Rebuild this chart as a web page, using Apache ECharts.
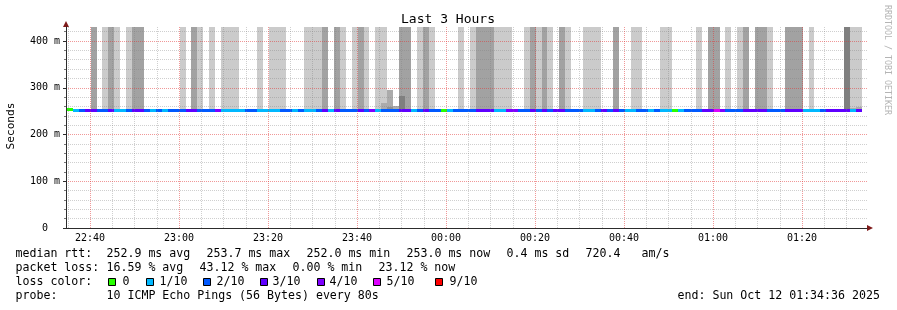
<!DOCTYPE html>
<html><head><meta charset="utf-8">
<script src="https://cdn.jsdelivr.net/npm/echarts@6/dist/echarts.min.js"></script>
<style>html,body{margin:0;padding:0;background:#fff}#c{width:897px;height:310px}</style>
</head><body><div id="c"></div>
<script>
// ---------------- data ----------------
const firstStepMin = 34.8;      // first 80s step starts 22:34:48 (minutes after 22:00)
const stepSeconds = 80;
const axisStartMin = 34.6;      // 22:34:36
const axisEndMin = 214.6;       // 01:34:36
const yMaxMs = 430;
const smokeTopMs = 430;

// lost pings (out of 10) per 80 s step
const lossTenths = [
 0,1,2,3,3,2,2,3,1,1, 2,3,3,2,1,2,1,2,2,2, 3,3,2,2,2,4,1,1,1,1,
 2,2,1,1,1,1,2,2,1,2, 1,1,2,3,1,3,2,2,2,3, 2,4,1,2,2,2,3,3,1,2,
 3,2,2,0,1,2,2,2,2,3, 3,3,1,1,4,4,2,2,3,2, 3,2,3,3,2,2,2,1,1,2,
 3,2,3,2,1,1,2,2,1,2, 1,1,0,1,2,2,2,3,3,5, 4,2,2,2,3,3,3,3,2,2,
 2,3,3,3,1,1,1,2,3,3, 3,3,1,3
];
// median rtt (ms) per step
const medianMs = [
 253.7,253.1,253.0,252.9,253.0,253.1,253.0,252.9,253.0,253.1, 253.0,252.9,253.0,253.0,253.1,253.0,253.0,252.9,253.0,253.1,
 253.0,253.0,252.9,253.0,253.1,253.0,253.0,253.0,252.9,253.0, 253.1,253.0,253.0,252.9,253.0,253.0,253.1,253.0,253.0,252.9,
 253.0,253.1,253.0,252.9,253.0,253.0,253.1,253.0,252.9,253.0, 253.0,253.1,253.0,253.0,252.9,253.0,253.0,253.1,253.0,252.9,
 253.0,253.0,253.1,253.0,253.0,252.9,253.0,252.4,252.4,253.0, 253.1,253.0,252.9,253.0,253.0,253.1,253.0,253.0,252.9,253.0,
 253.1,253.0,253.0,252.9,253.0,253.0,253.1,253.0,253.0,252.9, 253.0,253.1,253.0,253.0,252.9,253.0,253.0,253.1,253.0,253.0,
 252.9,253.0,253.1,253.0,253.0,252.9,253.0,253.0,253.1,253.0, 253.0,252.9,253.0,252.2,252.2,252.3,252.2,252.1,252.2,252.2,
 252.0,252.2,252.3,252.2,252.2,252.1,252.2,252.2,252.3,252.2, 252.2,252.2,252.9,253.0
];
// smoke (ping spread) steps
const lightSmokeSteps = [6,8,10,19,22,24,26,27,28,32,34,35,36,40,41,42,46,48,50,52,53,59,61,66,68,72,73,74,77,79,81,84,87,88,89,95,96,100,101,106,111,113,118,125,132,133];
const darkSmokeSteps = [4,7,11,12,21,43,45,49,56,57,60,69,70,71,78,80,83,92,108,109,114,116,117,121,122,123];
const darkestSmokeSteps = [131];
// partial smoke: [step, top ms, shade]
const partialSmoke = [[53,268,3],[54,295,3],[54,258,4],[55,262,3],[56,282,2],[67,255,0],[132,256,3],[133,258,3]];

const xTickMinutes = [40,60,80,100,120,140,160,180,200];
const xTickLabels = ['22:40','23:00','23:20','23:40','00:00','00:20','00:40','01:00','01:20'];
const xMinorMinutes = [35,45,50,55,65,70,75,85,90,95,105,110,115,125,130,135,145,150,155,165,170,175,185,190,195,205,210];
const yTickValues = [0,100,200,300,400];
const yMinorValues = [20,40,60,80,120,140,160,180,220,240,260,280,320,340,360,380,420];

const lossLevels = [0,1,2,3,4,5,9];
const lossLabels = ['0','1/10','2/10','3/10','4/10','5/10','9/10'];
const lossColors = ['#26ff00','#00b8ff','#0059ff','#5e00ff','#7e00ff','#dd00ff','#ff0000'];
const smokeShades = ['#cbcbcb','#a2a2a2','#7f7f7f','#ababab','#909090'];

const rttStats = ['252.9 ms avg','253.7 ms max','252.0 ms min','253.0 ms now','0.4 ms sd','720.4','am/s'];
const lossStats = ['16.59 % avg','43.12 % max','0.00 % min','23.12 % now'];
const probeText = '10 ICMP Echo Pings (56 Bytes) every 80s';
const endText = 'end: Sun Oct 12 01:34:36 2025';

// ---------------- build ----------------
const stepMin = stepSeconds / 60;
const stepStart = i => firstStepMin + i * stepMin;
const smokeData = [];
const addBand = (i, top, shade) => smokeData.push([stepStart(i), stepStart(i + 1), medianMs[i], top, shade]);
lightSmokeSteps.forEach(i => addBand(i, smokeTopMs, 0));
darkSmokeSteps.forEach(i => addBand(i, smokeTopMs, 1));
darkestSmokeSteps.forEach(i => addBand(i, smokeTopMs, 2));
partialSmoke.forEach(p => addBand(p[0], p[1], p[2]));

const lineData = lossTenths.map((l, i) => [stepStart(i), stepStart(i + 1), medianMs[i], lossLevels.indexOf(l)]);

function smokeItem(params, api) {
  const a = api.coord([api.value(0), api.value(3)]);
  const b = api.coord([api.value(1), api.value(2)]);
  const x0 = Math.round(a[0]), x1 = Math.round(b[0]);
  const y0 = Math.round(a[1]), y1 = Math.round(b[1]);
  return { type: 'rect', shape: { x: x0, y: y0, width: x1 - x0, height: y1 - y0 },
           style: { fill: smokeShades[api.value(4)] } };
}
function lineItem(params, api) {
  const a = api.coord([api.value(0), api.value(2)]);
  const b = api.coord([api.value(1), api.value(2)]);
  const x0 = Math.round(a[0]), x1 = Math.round(b[0]);
  const y = Math.round(a[1] - 1);
  return { type: 'rect', shape: { x: x0, y: y, width: x1 - x0, height: 3 },
           style: { fill: lossColors[api.value(3)] } };
}

const FONT = '"DejaVu Sans Mono", monospace';
const legendFont = '11.6px ' + FONT;
const txt = (text, x, y, extra) => Object.assign({ type: 'text', x: x, y: y,
  style: Object.assign({ text: text, font: legendFont, fill: '#000', textVerticalAlign: 'middle' }, extra || {}) });

const graphics = [];
graphics.push(txt('Last 3 Hours', 448, 20, { font: '13px ' + FONT, textAlign: 'center' }));
graphics.push({ type: 'text', x: 11, y: 126, rotation: Math.PI / 2,
  style: { text: 'Seconds', font: '11.2px ' + FONT, fill: '#000', textAlign: 'center', textVerticalAlign: 'middle' } });
graphics.push({ type: 'text', x: 887, y: 60, rotation: -Math.PI / 2,
  style: { text: 'RRDTOOL / TOBI OETIKER', font: '8.3px ' + FONT, fill: '#b4b4b4', textAlign: 'center', textVerticalAlign: 'middle' } });
// line 1
graphics.push(txt('median rtt:', 15.5, 254));
[107, 207, 307, 407, 507, 586, 642].forEach((x, k) => graphics.push(txt(rttStats[k], x - 0.5, 254)));
// line 2
graphics.push(txt('packet loss:', 15.5, 268));
[107, 200, 293, 379].forEach((x, k) => graphics.push(txt(lossStats[k], x - 0.5, 268)));
// line 3
graphics.push(txt('loss color:', 15.5, 282));
const sqX = [108, 146, 203, 260, 317, 373, 435];
const lbX = [123, 160, 217, 273, 330, 387, 450];
lossLabels.forEach((lab, k) => {
  graphics.push({ type: 'rect', shape: { x: sqX[k] + 0.5, y: 278.5, width: 7, height: 7 },
    style: { fill: lossColors[k], stroke: '#000', lineWidth: 1 } });
  graphics.push(txt(lab, lbX[k] - 0.5, 282));
});
// line 4
graphics.push(txt('probe:', 15.5, 296));
graphics.push(txt(probeText, 106.5, 296));
graphics.push(txt(endText, 677.5, 296));

const gridGray = 'rgba(128,128,128,0.38)';
const gridRed = 'rgba(225,50,50,0.5)';
const axisCol = '#2c2c2c';
const arrowCol = '#7f1a1a';

const option = {
  animation: false,
  backgroundColor: '#fff',
  grid: { left: 66, right: 30, top: 27, bottom: 82, containLabel: false },
  xAxis: [
    { type: 'value', min: axisStartMin, max: axisEndMin, position: 'bottom', z: 4,
      axisLine: { show: true, lineStyle: { color: arrowCol, width: 1 }, symbol: ['none', 'triangle'], symbolSize: [6, 6], symbolOffset: [0, 3] },
      axisTick: { show: false, customValues: xMinorMinutes },
      axisLabel: { show: false, customValues: xMinorMinutes },
      splitLine: { show: true, lineStyle: { color: gridGray, type: [1, 1], width: 1 } } },
    { type: 'value', min: axisStartMin, max: axisEndMin, position: 'bottom', z: 5,
      axisLine: { show: true, lineStyle: { color: axisCol, width: 1 } },
      axisTick: { show: false, customValues: xTickMinutes },
      axisLabel: { show: true, customValues: xTickMinutes, margin: 5, color: '#000', fontFamily: 'DejaVu Sans Mono', fontSize: 10,
        formatter: v => xTickLabels[xTickMinutes.indexOf(Math.round(v))] || '' },
      splitLine: { show: true, lineStyle: { color: gridRed, type: [1, 1], width: 1 } } }
  ],
  yAxis: [
    { type: 'value', min: 0, max: yMaxMs, position: 'left', z: 4,
      axisLine: { show: true, lineStyle: { color: arrowCol, width: 1 }, symbol: ['none', 'triangle'], symbolSize: [6, 6], symbolOffset: [0, 3] },
      axisTick: { show: true, length: 2, customValues: yMinorValues, lineStyle: { color: '#777' } },
      axisLabel: { show: false, customValues: yMinorValues },
      splitLine: { show: true, lineStyle: { color: gridGray, type: [1, 1], width: 1 } } },
    { type: 'value', min: 0, max: yMaxMs, position: 'left', z: 5,
      axisLine: { show: true, lineStyle: { color: axisCol, width: 1 } },
      axisTick: { show: true, length: 3, customValues: yTickValues, lineStyle: { color: axisCol } },
      axisLabel: { show: true, customValues: yTickValues, margin: 6, color: '#000', fontFamily: 'DejaVu Sans Mono', fontSize: 10,
        formatter: v => v === 0 ? '0  ' : v + ' m' },
      splitLine: { show: true, lineStyle: { color: gridRed, type: [1, 1], width: 1 } } }
  ],
  series: [
    { type: 'custom', name: 'smoke', xAxisIndex: 1, yAxisIndex: 1, renderItem: smokeItem, data: smokeData,
      encode: { x: [0, 1], y: [2, 3] }, z: 2, silent: true },
    { type: 'custom', name: 'median', xAxisIndex: 1, yAxisIndex: 1, renderItem: lineItem, data: lineData,
      encode: { x: [0, 1], y: 2 }, z: 3, silent: true }
  ],
  graphic: graphics
};
const chart = echarts.init(document.getElementById('c'), null, { renderer: 'canvas' });
chart.setOption(option);
</script>
</body></html>
